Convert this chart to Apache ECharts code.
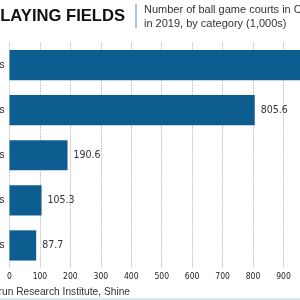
<!DOCTYPE html>
<html>
<head>
<meta charset="utf-8">
<script src="https://cdn.jsdelivr.net/npm/echarts@6/dist/echarts.min.js"></script>
<style>html,body{margin:0;padding:0;background:#fff}#c{width:300px;height:300px}</style>
</head>
<body>
<div id="c"></div>
<script>
var categories = ["Basketball courts", "Table tennis courts", "Badminton courts", "Football pitches", "Volleyball courts"];
var values = [975.1, 805.6, 190.6, 105.3, 87.7];
var xTicks = [0, 100, 200, 300, 400, 500, 600, 700, 800, 900, 1000];
var titleText = "PLAYING FIELDS";
var subtitleLines = ["Number of ball game courts in China", "in 2019, by category (1,000s)"];
var sourceText = "Source: Hurun Research Institute, Shine";

var chart = echarts.init(document.getElementById('c'), null, {renderer: 'canvas'});
chart.setOption({
  animation: false,
  backgroundColor: '#fff',
  grid: {left: 9.5, top: 42.5, width: 304.4, height: 225.5, containLabel: false, outerBoundsMode: 'none'},
  xAxis: {
    type: 'value', min: xTicks[0], max: xTicks[xTicks.length - 1], interval: 100,
    axisLine: {show: false}, axisTick: {show: false},
    splitLine: {show: true, lineStyle: {color: '#c4c4c4', type: [2, 1], width: 1}},
    axisLabel: {margin: 4, fontFamily: 'DejaVu Sans Condensed', fontSize: 8.5, color: '#222', hideOverlap: false,
      formatter: function (v) { return String(v); }}
  },
  yAxis: {
    type: 'category', data: categories, inverse: true,
    axisLine: {show: false}, axisTick: {show: false},
    axisLabel: {margin: 5, fontFamily: 'Liberation Sans', fontSize: 10, color: '#222'}
  },
  series: [{
    type: 'bar', data: values, barCategoryGap: '33%',
    itemStyle: {color: '#0e5d91'},
    label: {show: true, position: 'right', distance: 6, fontFamily: 'DejaVu Sans Condensed', fontSize: 10.5, color: '#333'}
  }],
  graphic: [
    {type: 'text', x: 125, y: 16, style: {text: titleText, align: 'right', verticalAlign: 'middle', font: 'bold 16.6px "Liberation Sans"', fill: '#111'}},
    {type: 'line', shape: {x1: 136, y1: 4, x2: 136, y2: 28}, style: {stroke: '#8db3d4', lineWidth: 1.5}},
    {type: 'text', x: 144, y: 10, style: {text: subtitleLines[0], align: 'left', verticalAlign: 'middle', font: '11px "Liberation Sans"', fill: '#333'}},
    {type: 'text', x: 144, y: 24, style: {text: subtitleLines[1], align: 'left', verticalAlign: 'middle', font: '11px "Liberation Sans"', fill: '#333'}},
    {type: 'text', x: 130, y: 292, style: {text: sourceText, align: 'right', verticalAlign: 'middle', font: '10.2px "Liberation Sans"', fill: '#333'}},
    {type: 'rect', shape: {x: 0, y: 298, width: 300, height: 2}, style: {fill: '#d6e8f2'}}
  ]
});
</script>
</body>
</html>
